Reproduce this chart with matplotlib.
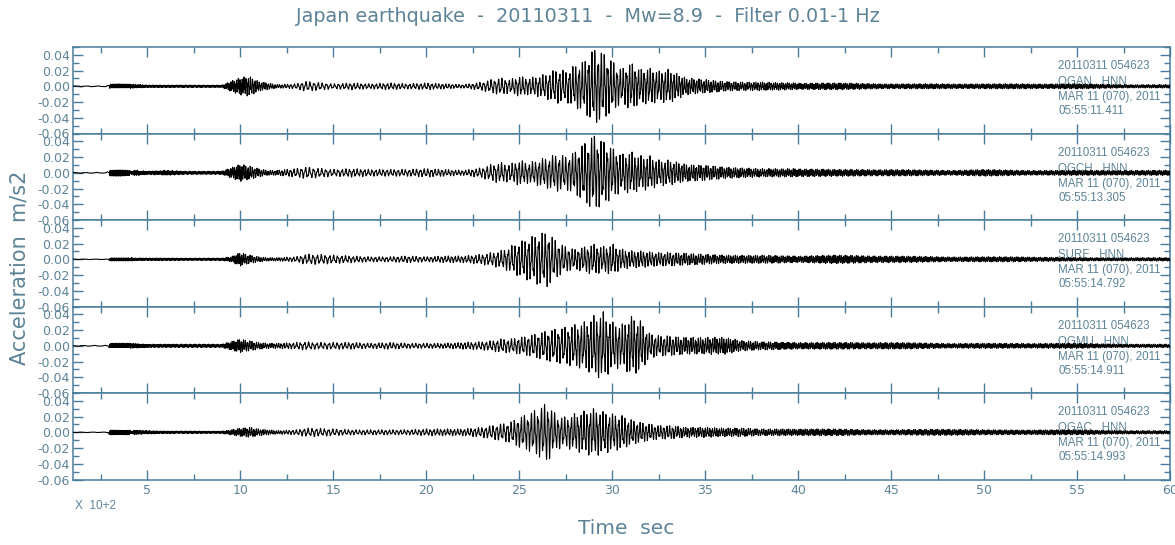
import numpy as np
import matplotlib
matplotlib.use("Agg")
import matplotlib.pyplot as plt
from matplotlib.ticker import MultipleLocator, FormatStrFormatter

# ---- data -------------------------------------------------------------
# Envelope breakpoints (time in units of 100 s)
grid_t = [1, 2.8, 3, 3.5, 4, 4.5,
          5, 6, 7, 8, 9,
          9.5, 10, 10.5, 11, 11.5, 12,
          13, 13.5, 14, 15, 16, 17, 18, 19, 20, 21, 22,
          23, 23.5, 24, 24.5, 25, 25.5, 26, 26.5, 27, 27.5, 28, 28.5, 29, 29.5,
          30, 30.5, 31, 31.5, 32, 32.5, 33,
          34, 35, 36, 37, 38,
          40, 42, 45, 48, 50, 52, 55, 58, 60]

# dominant oscillation period (s) at each breakpoint
period_s = [60, 60, 3, 3, 3, 4,
            6, 7, 8, 8, 8,
            10, 10, 12, 12, 12, 12,
            20, 22, 22, 22, 20, 20, 20, 20, 20, 18, 18,
            20, 20, 19, 19, 18, 18, 18, 18, 18, 18, 17, 17, 17, 17,
            17, 17, 16, 16, 16, 16, 16,
            13, 13, 12, 12, 12,
            10, 10, 10, 10, 10, 10, 10, 10, 10]

stations = ["OGAN", "OGCH", "SURF", "OGMU", "OGAC"]
start_times = ["05:55:11.411", "05:55:13.305", "05:55:14.792",
               "05:55:14.911", "05:55:14.993"]

# peak acceleration envelope (m/s2) at each breakpoint
amp_ogan = [0.0005, 0.0005, 0.0025, 0.003, 0.0025, 0.002,
            0.0015, 0.0015, 0.0015, 0.0015, 0.0015,
            0.006, 0.010, 0.012, 0.006, 0.004, 0.002,
            0.003, 0.006, 0.005, 0.003, 0.004, 0.003, 0.004, 0.003, 0.004, 0.003, 0.002,
            0.005, 0.008, 0.010, 0.008, 0.012, 0.010, 0.012, 0.015, 0.020, 0.018, 0.025,
            0.030, 0.045, 0.040, 0.030, 0.020, 0.028, 0.020, 0.022, 0.018, 0.020,
            0.010, 0.008, 0.006, 0.005, 0.005,
            0.004, 0.004, 0.003, 0.003, 0.003, 0.003, 0.003, 0.002, 0.002]
amp_ogch = [0.0005, 0.0005, 0.004, 0.004, 0.0035, 0.003,
            0.002, 0.003, 0.002, 0.002, 0.002,
            0.006, 0.010, 0.008, 0.005, 0.003, 0.003,
            0.005, 0.007, 0.006, 0.004, 0.005, 0.004, 0.004, 0.004, 0.005, 0.004, 0.003,
            0.006, 0.010, 0.012, 0.010, 0.015, 0.012, 0.015, 0.018, 0.022, 0.020, 0.025,
            0.035, 0.045, 0.038, 0.030, 0.022, 0.025, 0.020, 0.020, 0.015, 0.015,
            0.010, 0.009, 0.007, 0.006, 0.005,
            0.005, 0.004, 0.004, 0.003, 0.004, 0.003, 0.003, 0.003, 0.003]
amp_surf = [0.0003, 0.0003, 0.002, 0.002, 0.002, 0.0015,
            0.0015, 0.0015, 0.0015, 0.0015, 0.0015,
            0.003, 0.008, 0.005, 0.003, 0.002, 0.002,
            0.003, 0.006, 0.006, 0.005, 0.004, 0.003, 0.003, 0.004, 0.003, 0.004, 0.004,
            0.006, 0.008, 0.010, 0.015, 0.020, 0.025, 0.030, 0.033, 0.022, 0.015, 0.012,
            0.015, 0.018, 0.015, 0.018, 0.012, 0.010, 0.010, 0.009, 0.008, 0.008,
            0.007, 0.006, 0.005, 0.005, 0.005,
            0.004, 0.005, 0.004, 0.003, 0.003, 0.003, 0.002, 0.002, 0.002]
amp_ogmu = [0.0005, 0.0005, 0.003, 0.003, 0.003, 0.0025,
            0.002, 0.002, 0.002, 0.002, 0.002,
            0.005, 0.008, 0.006, 0.004, 0.003, 0.003,
            0.004, 0.005, 0.004, 0.004, 0.004, 0.003, 0.004, 0.003, 0.003, 0.003, 0.004,
            0.005, 0.006, 0.008, 0.008, 0.010, 0.012, 0.015, 0.018, 0.020, 0.022, 0.025,
            0.028, 0.035, 0.040, 0.028, 0.025, 0.035, 0.030, 0.015, 0.012, 0.012,
            0.010, 0.010, 0.010, 0.006, 0.005,
            0.004, 0.004, 0.004, 0.003, 0.003, 0.003, 0.003, 0.002, 0.002]
amp_ogac = [0.0003, 0.0003, 0.003, 0.003, 0.003, 0.0025,
            0.002, 0.0015, 0.0015, 0.0015, 0.0015,
            0.003, 0.005, 0.006, 0.004, 0.003, 0.002,
            0.003, 0.005, 0.005, 0.004, 0.003, 0.003, 0.003, 0.003, 0.004, 0.004, 0.004,
            0.006, 0.008, 0.010, 0.012, 0.018, 0.022, 0.028, 0.035, 0.020, 0.018, 0.022,
            0.025, 0.028, 0.025, 0.022, 0.020, 0.015, 0.012, 0.010, 0.008, 0.008,
            0.006, 0.006, 0.005, 0.005, 0.004,
            0.004, 0.004, 0.003, 0.004, 0.003, 0.003, 0.003, 0.002, 0.002]
amplitudes = [amp_ogan, amp_ogch, amp_surf, amp_ogmu, amp_ogac]

x_major = [5, 10, 15, 20, 25, 30, 35, 40, 45, 50, 55, 60]
y_major = [-0.06, -0.04, -0.02, 0.00, 0.02, 0.04]

# ---- style ------------------------------------------------------------
axis_col = "#4a7d9c"
text_col = "#5d8397"
info_font = "Liberation Sans"

fig = plt.figure(figsize=(11.75, 5.45), dpi=100)
left, width = 73 / 1175, 1097 / 1175
top, panel_h = 1 - 47 / 545, 86.5 / 545

t = np.arange(1.0, 60.0 + 1e-9, 0.01)  # 1 s sampling, in units of 100 s
dt_s = 1.0

for i, (sta, amp, stamp) in enumerate(zip(stations, amplitudes, start_times)):
    ax = fig.add_axes([left, top - (i + 1) * panel_h, width, panel_h])
    env = np.interp(t, grid_t, amp)
    per = np.interp(t, grid_t, period_s)
    phase1 = np.cumsum(2 * np.pi * dt_s / per)
    phase2 = np.cumsum(2 * np.pi * dt_s / (per * 0.43))
    trace = env * (0.78 * np.sin(phase1 + 0.7 * i) + 0.32 * np.sin(phase2 + 1.3 * i))
    ax.plot(t, trace, color="black", lw=0.8, zorder=3)

    ax.set_xlim(1, 60)
    ax.set_ylim(-0.06, 0.05)
    ax.set_xticks(x_major)
    ax.xaxis.set_minor_locator(MultipleLocator(2.5))
    ax.set_yticks(y_major)
    ax.yaxis.set_minor_locator(MultipleLocator(0.01))
    ax.yaxis.set_major_formatter(FormatStrFormatter("%.2f"))
    ax.tick_params(axis="both", which="both", direction="in", colors=axis_col,
                   labelcolor=text_col, top=True, right=True, width=1.0)
    ax.tick_params(axis="both", which="major", length=7, labelsize=9)
    ax.tick_params(axis="both", which="minor", length=4)
    ax.tick_params(axis="y", pad=2)
    if i < len(stations) - 1:
        ax.tick_params(axis="x", labelbottom=False)
    for sp in ax.spines.values():
        sp.set_color(axis_col)
        sp.set_linewidth(1.1)

    lines = ["20110311 054623", f"{sta}   HNN", "MAR 11 (070), 2011", stamp]
    for txt, yy in zip(lines, [0.776, 0.591, 0.418, 0.256]):
        ax.text(0.898, yy, txt, transform=ax.transAxes, ha="left", va="center",
                fontsize=8.3, family=info_font, color=text_col, zorder=2)

fig.text(0.5, 1 - 17 / 545, "Japan earthquake  -  20110311  -  Mw=8.9  -  Filter 0.01-1 Hz",
         ha="center", va="center", fontsize=13.8, color=text_col)
fig.text(20 / 1175, 1 - 268 / 545, "Acceleration  m/s2", rotation=90,
         ha="center", va="center", fontsize=15, color=text_col)
fig.text(626 / 1175, 1 - 528 / 545, "Time  sec", ha="center", va="center",
         fontsize=14.5, color=text_col)
fig.text(75 / 1175, 1 - 506 / 545, "X  10+2", ha="left", va="center",
         fontsize=8.5, family=info_font, color=text_col)

fig.savefig("out.png", dpi=100, facecolor="white")
